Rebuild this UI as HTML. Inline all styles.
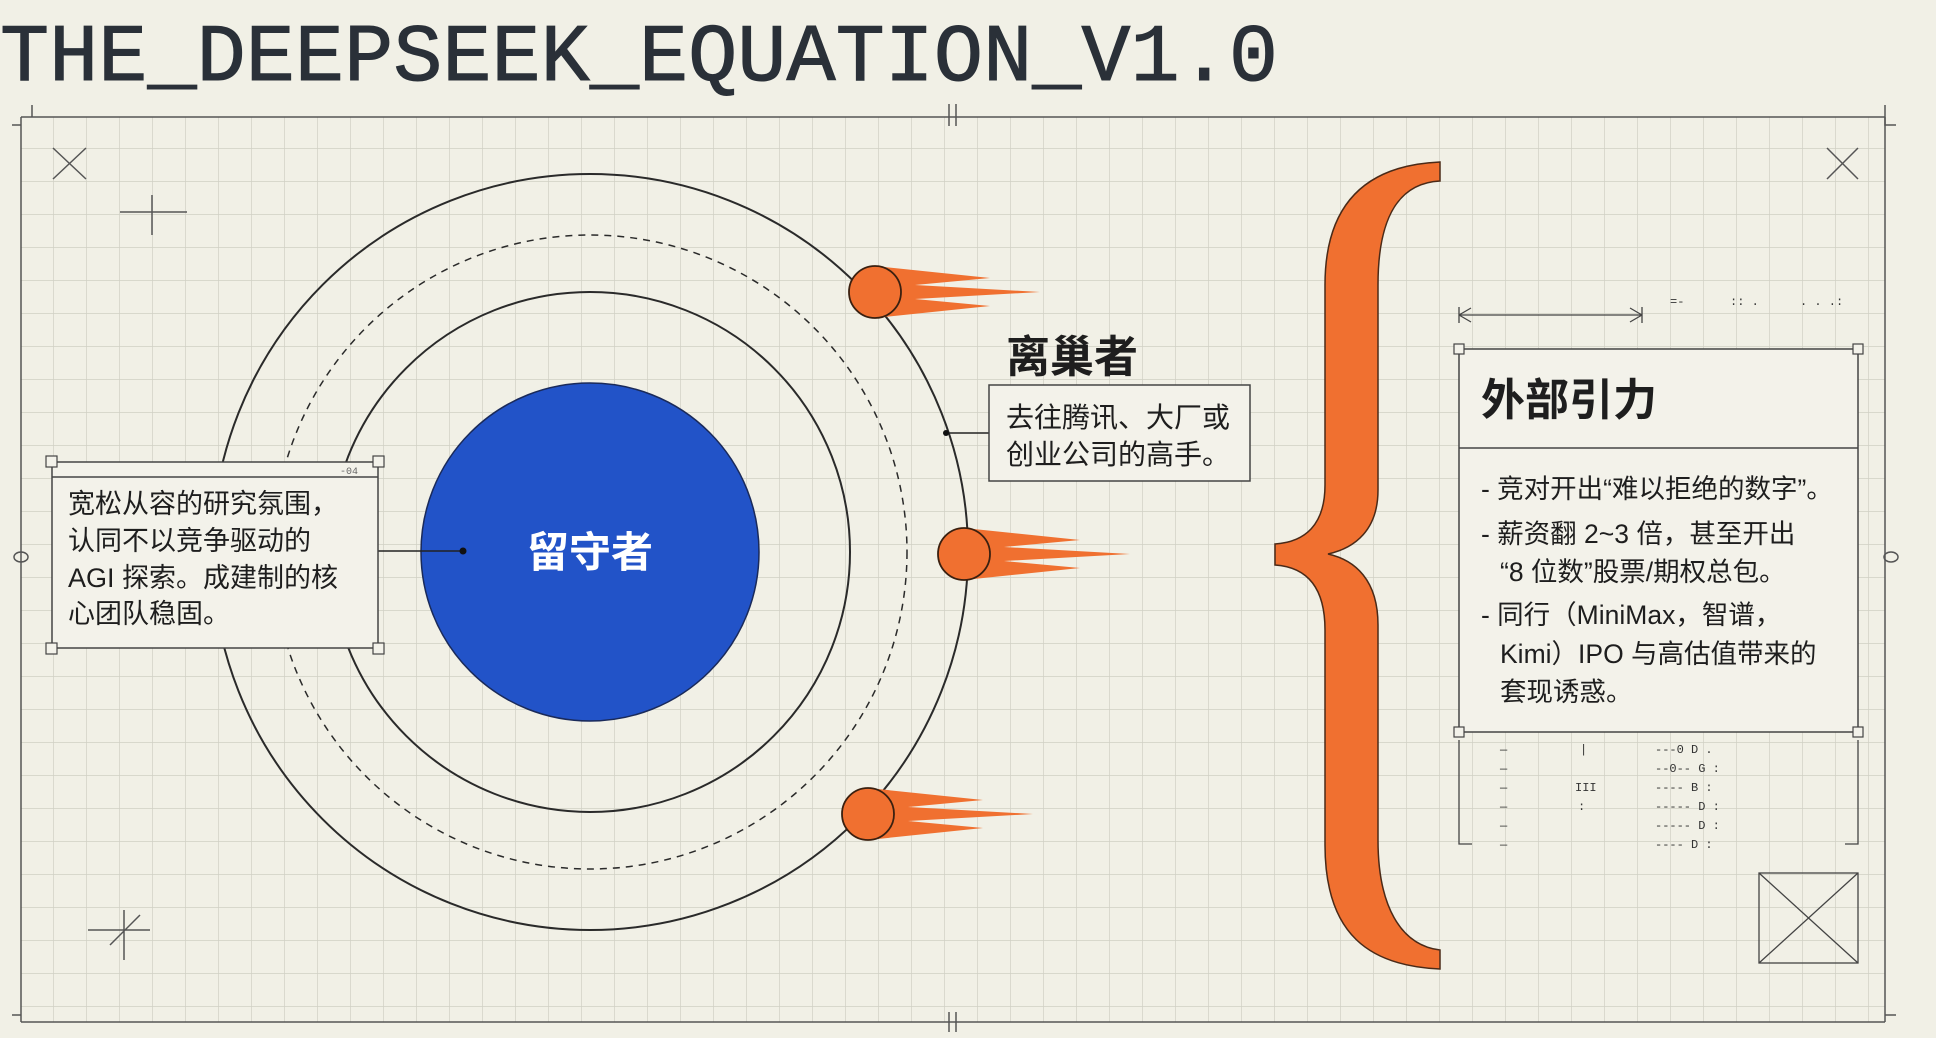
<!DOCTYPE html>
<html><head><meta charset="utf-8"><style>
html,body{margin:0;padding:0;background:#f1f0e6;}
body{width:1936px;height:1038px;overflow:hidden;position:relative;}
svg{position:absolute;left:0;top:0;}
.t{font-family:"Liberation Sans","Noto Sans CJK SC",sans-serif;fill:#1e1e1e;}
</style></head><body>
<svg width="1936" height="1038" viewBox="0 0 1936 1038" xmlns="http://www.w3.org/2000/svg">
<defs>
<pattern id="g" x="20" y="115" width="33" height="33" patternUnits="userSpaceOnUse">
<path d="M0,0 H33 M0,0 V33" stroke="#cfcfc4" stroke-width="1.4" fill="none"/>
</pattern>
</defs>
<rect x="21" y="117" width="1864" height="905" fill="url(#g)"/>
<text x="0" y="80" font-family="Liberation Mono,monospace" font-size="82" fill="#2a3038" stroke="#2a3038" stroke-width="1" textLength="1278" lengthAdjust="spacingAndGlyphs">THE_DEEPSEEK_EQUATION_V1.0</text>
<g stroke="#555" stroke-width="1.5" fill="none">
<path d="M21,117 H1885 M21,117 V1022 M1885,117 V1022 M21,1022 H1885"/>
<path d="M12,125 H21 M32,105 V117 M1885,105 V125 H1896 M12,1015 H21 M1885,1015 H1896 M949,104 V126 M956,104 V126 M949,1012 V1032 M956,1012 V1032"/>
<path d="M53,148 L86,179 M86,148 L53,179 M1827,148 L1858,179 M1858,148 L1827,179"/>
<path d="M120,212 H187 M152,195 V235 M88,930 H150 M124,910 V960 M110,945 L140,915"/>
<ellipse cx="21" cy="557" rx="7" ry="5"/><ellipse cx="1891" cy="557" rx="7" ry="5"/>
</g>
<g fill="none" stroke="#2a2a2a">
<circle cx="590" cy="552" r="378" stroke-width="2"/>
<circle cx="590" cy="552" r="317" stroke-width="1.5" stroke-dasharray="7,6"/>
<circle cx="590" cy="552" r="260" stroke-width="2"/>
</g>
<circle cx="590" cy="552" r="169" fill="#2253c8" stroke="#1a2a5a" stroke-width="1.5"/>
<text class="t" x="590" y="567" text-anchor="middle" font-size="42" font-weight="bold" style="fill:#fff">留守者</text>
<line x1="378" y1="551" x2="463" y2="551" stroke="#222" stroke-width="1.5"/>
<circle cx="463" cy="551" r="3.5" fill="#111"/>
<rect x="52" y="462" width="326" height="186" fill="#f3f2ea" stroke="#444" stroke-width="1.5"/>
<line x1="52" y1="477" x2="378" y2="477" stroke="#444" stroke-width="1.5"/>
<g fill="#f3f2ea" stroke="#444" stroke-width="1.2"><rect x="46" y="456" width="11" height="11"/><rect x="373" y="456" width="11" height="11"/><rect x="46" y="643" width="11" height="11"/><rect x="373" y="643" width="11" height="11"/></g>
<text x="340" y="474" font-size="10" fill="#666" font-family="Liberation Mono,monospace">-04</text>
<g class="t" font-size="27">
<text x="68" y="513">宽松从容的研究氛围，</text>
<text x="68" y="550">认同不以竞争驱动的</text>
<text x="68" y="587">AGI 探索。成建制的核</text>
<text x="68" y="623">心团队稳固。</text>
</g>
<g fill="#f07030" stroke="none">
<path d="M875,266 L990,278 L915,285 L1040,292 L915,299 L990,306 L875,318 Z"/>
<path d="M964,528 L1080,540 L1004,547 L1130,554 L1004,561 L1080,568 L964,580 Z"/>
<path d="M868,788 L983,800 L908,807 L1033,814 L908,821 L983,828 L868,840 Z"/>
</g>
<g fill="#f07030" stroke="#3a2010" stroke-width="1.8">
<circle cx="875" cy="292" r="26"/><circle cx="964" cy="554" r="26"/><circle cx="868" cy="814" r="26"/>
</g>
<text class="t" x="1006" y="372" font-size="44" font-weight="bold">离巢者</text>
<line x1="946" y1="433" x2="989" y2="433" stroke="#222" stroke-width="1.5"/>
<circle cx="946" cy="433" r="3" fill="#111"/>
<rect x="989" y="385" width="261" height="96" fill="#f3f2ea" stroke="#444" stroke-width="1.5"/>
<g class="t" font-size="28"><text x="1006" y="427">去往腾讯、大厂或</text><text x="1006" y="464">创业公司的高手。</text></g>
<path d="M1440,162 L1440,181 C1400,183 1378,215 1378,285 L1378,490 C1378,530 1355,548 1328,554 C1355,560 1378,580 1378,625 L1378,840 C1378,905 1400,945 1440,950 L1440,969 C1370,966 1325,935 1325,845 L1325,630 C1325,585 1305,567 1275,565 L1275,544 C1305,542 1325,525 1325,485 L1325,285 C1325,200 1370,165 1440,162 Z" fill="#f07030" stroke="#4a2a18" stroke-width="1.5"/>
<g stroke="#444" stroke-width="1.3" fill="none">
<path d="M1459,315 H1642 M1459,307 V323 M1642,307 V323 M1459,315 l12,-7 M1459,315 l12,7 M1642,315 l-12,-7 M1642,315 l-12,7"/>
<path d="M1459,740 V844 H1472 M1858,740 V844 H1845"/>
<rect x="1759" y="873" width="99" height="90"/>
<path d="M1759,873 L1858,963 M1858,873 L1759,963"/>
</g>
<g fill="#333" font-family="Liberation Mono,monospace" font-size="12">
<text x="1670" y="305">=-</text><text x="1730" y="305">:: .</text><text x="1800" y="305">. . .:</text>
<text x="1500" y="753">—</text><text x="1500" y="772">—</text><text x="1500" y="791">—</text><text x="1500" y="810">—</text><text x="1500" y="829">—</text><text x="1500" y="848">—</text>
<text x="1580" y="753">|</text><text x="1575" y="791">III</text><text x="1578" y="810">:</text>
<text x="1655" y="753">---0  D  .</text><text x="1655" y="772">--0-- G  :</text><text x="1655" y="791">----  B  :</text><text x="1655" y="810">----- D  :</text><text x="1655" y="829">----- D  :</text><text x="1655" y="848">---- D  :</text>
</g>
<rect x="1459" y="349" width="399" height="383" fill="#f3f2ea" stroke="#444" stroke-width="1.5"/>
<line x1="1459" y1="448" x2="1858" y2="448" stroke="#444" stroke-width="1.5"/>
<g fill="#f3f2ea" stroke="#444" stroke-width="1.2"><rect x="1454" y="344" width="10" height="10"/><rect x="1853" y="344" width="10" height="10"/><rect x="1454" y="727" width="10" height="10"/><rect x="1853" y="727" width="10" height="10"/></g>
<text class="t" x="1481" y="415" font-size="44" font-weight="bold">外部引力</text>
<g class="t" font-size="26.5">
<text x="1481" y="498">- 竞对开出“难以拒绝的数字”。</text>
<text x="1481" y="543">- 薪资翻 2~3 倍，甚至开出</text>
<text x="1500" y="581">“8 位数”股票/期权总包。</text>
<text x="1481" y="624">- 同行（MiniMax，智谱，</text>
<text x="1500" y="663">Kimi）IPO 与高估值带来的</text>
<text x="1500" y="701">套现诱惑。</text>
</g>
</svg>
</body></html>
